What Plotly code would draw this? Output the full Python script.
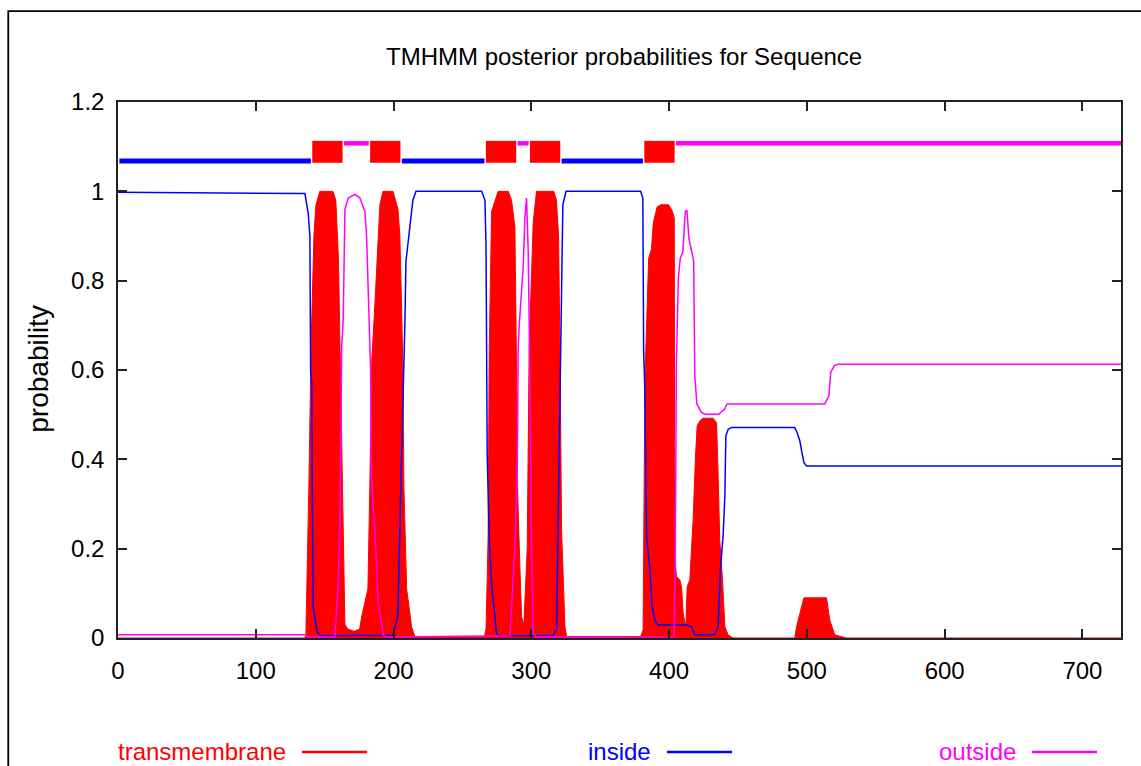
import plotly.graph_objects as go

TITLE = "TMHMM posterior probabilities for Sequence"
Y_LABEL = "probability"
LEGEND_NAMES = ["transmembrane", "inside", "outside"]
SEQ_LEN = 728

# posterior probability of transmembrane (red, filled impulses)
TM_X = [0, 135.7, 136.4, 137.1, 138.6, 140.1, 142.2, 143.7, 146.5, 156.0, 158.1, 160.0,
        161.4, 162.9, 164.7, 166.8, 171.4, 175.4, 177.0, 179.2, 181.4, 182.8, 184.2,
        186.5, 190.1, 192.3, 199.6, 203.2, 204.6, 205.9, 206.8, 207.5, 209.5, 213.1,
        215.5, 265.9, 267.1, 267.96, 268.66, 269.47, 271.18, 275.9, 283.25, 285.66,
        288.08, 289.29, 289.79, 291.2, 292.9, 294.6, 297.03, 298.44, 301.36, 303.77,
        316.24, 318.26, 319.77, 320.77, 321.98, 324.39, 325.6, 379.32, 381.13, 382.44,
        383.85, 385.16, 387.17, 388.58, 391.29, 394.01, 399.64, 402.46, 403.77, 404.07,
        405.38, 407.79, 409.0, 410.2, 412.12, 413.12, 415.03, 417.45, 419.16, 420.37,
        422.28, 424.69, 431.93, 434.45, 435.56, 436.76, 438.77, 440.49, 442.8, 446.42,
        491.19, 492.5, 494.91, 497.83, 514.22, 516.64, 520.26, 528.71, 728]
TM_P = [0, 0, 0.01, 0.11, 0.35, 0.65, 0.9, 0.97, 1.0, 1.0, 0.98, 0.85,
        0.6, 0.27, 0.03, 0.02, 0.015, 0.02, 0.05, 0.08, 0.11, 0.34, 0.62,
        0.75, 0.97, 1.0, 1.0, 0.96, 0.9, 0.73, 0.6, 0.34, 0.11, 0.025,
        0.003, 0.003, 0.02, 0.13, 0.23, 0.65, 0.955, 1.0, 1.0, 0.98,
        0.92, 0.6, 0.355, 0.21, 0.048, 0.03, 0.2, 0.65, 0.93, 1.0,
        1.0, 0.98, 0.9, 0.65, 0.24, 0.025, 0.003, 0.003, 0.018, 0.58,
        0.745, 0.85, 0.87, 0.93, 0.965, 0.97, 0.97, 0.955, 0.94, 0.18,
        0.138, 0.13, 0.115, 0.055, 0.025, 0.115, 0.13, 0.265, 0.407, 0.475,
        0.486, 0.492, 0.492, 0.482, 0.37, 0.22, 0.13, 0.025, 0.007, 0,
        0, 0.025, 0.055, 0.09, 0.09, 0.04, 0.007, 0, 0]

# posterior probability of inside (blue)
IN_X = [0, 135.67, 138.08, 139.29, 139.79, 140.6, 141.0, 141.7, 144.22, 146.53, 199.55,
        203.17, 204.58, 206.59, 207.5, 208.3, 209.0, 210.41, 212.63, 214.03, 216.25,
        263.93, 266.35, 267.1, 267.55, 267.96, 269.47, 271.18, 274.8, 276.0, 315.64,
        318.36, 319.46, 320.47, 321.58, 322.88, 325.2, 379.32, 380.93, 381.53, 382.44,
        382.94, 383.65, 386.06, 387.67, 389.68, 392.1, 412.62, 416.24, 418.65, 433.14,
        435.56, 437.37, 439.18, 440.49, 441.19, 442.8, 445.31, 491.19, 492.9, 494.91,
        496.12, 497.83, 499.74, 728]
IN_P = [0.998, 0.995, 0.95, 0.9, 0.6, 0.57, 0.35, 0.07, 0.018, 0.005, 0.006,
        0.05, 0.25, 0.47, 0.607, 0.715, 0.843, 0.88, 0.94, 0.98, 1.0,
        1.0, 0.98, 0.88, 0.647, 0.415, 0.22, 0.12, 0.01, 0.005, 0.005,
        0.018, 0.26, 0.5, 0.7, 0.97, 1.0, 1.0, 0.985, 0.64, 0.55,
        0.34, 0.228, 0.153, 0.07, 0.04, 0.029, 0.029, 0.025, 0.007, 0.007,
        0.025, 0.16, 0.228, 0.318, 0.452, 0.467, 0.471, 0.471, 0.46, 0.441,
        0.42, 0.393, 0.385, 0.385]

# posterior probability of outside (magenta)
OUT_X = [0, 136.37, 137.68, 157.4, 159.81, 161.12, 162.33, 163.43, 164.74, 167.15, 171.98,
         175.61, 179.23, 180.43, 181.64, 183.35, 184.06, 186.47, 188.88, 192.51, 194.52,
         284.45, 288.08, 289.79, 290.49, 291.2, 294.11, 295.32, 296.53, 297.73, 298.94,
         299.75, 300.15, 301.36, 303.17, 403.67, 404.47, 405.28, 406.69, 408.09, 410.0,
         411.72, 412.92, 414.43, 416.54, 417.85, 418.65, 420.17, 423.39, 426.2, 435.96,
         440.18, 442.09, 513.0, 516.0, 517.3, 520.0, 522.5, 728]
OUT_P = [0.007, 0.007, 0.002, 0.002, 0.12, 0.26, 0.65, 0.71, 0.96, 0.985, 0.993,
         0.985, 0.955, 0.9, 0.775, 0.6, 0.35, 0.24, 0.08, 0.007, 0.002,
         0.005, 0.2, 0.38, 0.65, 0.7, 0.83, 0.94, 0.985, 0.865, 0.6,
         0.27, 0.2, 0.01, 0.002, 0.003, 0.18, 0.61, 0.805, 0.85, 0.865,
         0.955, 0.958, 0.894, 0.865, 0.843, 0.587, 0.524, 0.505, 0.501, 0.501,
         0.512, 0.524, 0.524, 0.542, 0.595, 0.61, 0.613, 0.613]

# predicted topology (residue ranges)
TM_START = [141, 183, 267, 299, 382]
TM_END = [163, 205, 289, 321, 404]
IN_START = [1, 206, 322]
IN_END = [140, 266, 381]
OUT_START = [164, 290, 405]
OUT_END = [182, 298, 728]

X_TICKS = [0, 100, 200, 300, 400, 500, 600, 700]
Y_TICKS = [0, 0.2, 0.4, 0.6, 0.8, 1.0, 1.2]
Y_TICK_TEXT = ["0", "0.2", "0.4", "0.6", "0.8", "1", "1.2"]

RED = "#ff0000"
BLUE = "#0000ff"
MAGENTA = "#ff00ff"
FONT = "Liberation Sans, Arial, Helvetica, sans-serif"
AX = "#222222"
FS = 24


def segs(starts, ends, level):
    xs, ys = [], []
    for s, e in zip(starts, ends):
        xs += [s, e, None]
        ys += [level, level, None]
    return xs, ys


fig = go.Figure()
fig.add_trace(go.Scatter(x=TM_X, y=TM_P, mode="lines", fill="tozeroy",
                         fillcolor=RED, line=dict(color=RED, width=1)))
fig.add_trace(go.Scatter(x=IN_X, y=IN_P, mode="lines", line=dict(color=BLUE, width=1.5)))
fig.add_trace(go.Scatter(x=OUT_X, y=OUT_P, mode="lines", line=dict(color=MAGENTA, width=1.5)))

# topology track
ix, iy = segs(IN_START, IN_END, 1.068)
fig.add_trace(go.Scatter(x=ix, y=iy, mode="lines", line=dict(color=BLUE, width=5)))
ox, oy = segs(OUT_START, OUT_END, 1.1075)
fig.add_trace(go.Scatter(x=ox, y=oy, mode="lines", line=dict(color=MAGENTA, width=4.5)))
fig.add_trace(go.Bar(x=[(s + e) / 2 for s, e in zip(TM_START, TM_END)],
                     width=[e - s for s, e in zip(TM_START, TM_END)],
                     y=[0.049] * len(TM_START), base=[1.064] * len(TM_START),
                     marker=dict(color=RED, line=dict(width=0))))

fig.update_layout(
    template="none", width=1141, height=766,
    margin=dict(l=118, r=20, t=102, b=128, autoexpand=False),
    plot_bgcolor="white", paper_bgcolor="white", showlegend=False,
    font=dict(family=FONT, size=FS, color="black"),
)
fig.update_xaxes(range=[0, SEQ_LEN], tickvals=X_TICKS, ticks="inside", ticklen=9,
                 tickwidth=1.5, tickcolor=AX, showline=True, linecolor=AX, linewidth=1.5,
                 mirror="allticks", showgrid=False, zeroline=False, automargin=False,
                 tickfont=dict(family=FONT, size=FS, color="black"), ticklabelstandoff=10)
fig.update_yaxes(range=[0, 1.2], tickvals=Y_TICKS, ticktext=Y_TICK_TEXT, ticks="inside",
                 ticklen=9, tickwidth=1.5, tickcolor=AX, showline=True, linecolor=AX,
                 linewidth=1.5, mirror="allticks", showgrid=False, zeroline=False,
                 automargin=False, tickfont=dict(family=FONT, size=FS, color="black"),
                 ticklabelstandoff=7)

ann = [
    dict(text=TITLE, x=0.5045, y=1.0857, xref="paper", yref="paper", showarrow=False,
         xanchor="center", yanchor="middle", font=dict(family=FONT, size=FS, color="black")),
    dict(text=Y_LABEL, x=-0.0788, y=0.5023, xref="paper", yref="paper", showarrow=False,
         textangle=-90, xanchor="center", yanchor="middle",
         font=dict(family=FONT, size=28, color="black")),
]
leg_colors = [RED, BLUE, MAGENTA]
leg_text_right = [0.1695, 0.5334, 0.8973]
leg_line = [(0.1834, 0.2483), (0.5474, 0.6122), (0.9113, 0.9761)]
shapes = [dict(type="rect", xref="paper", yref="paper", x0=-0.1094, x1=1.3, y0=-0.6, y1=1.1696,
               line=dict(color="black", width=1.8), fillcolor="rgba(0,0,0,0)", layer="below")]
for name, c, xr, (l0, l1) in zip(LEGEND_NAMES, leg_colors, leg_text_right, leg_line):
    ann.append(dict(text=name, x=xr, y=-0.2125, xref="paper", yref="paper", showarrow=False,
                    xanchor="right", yanchor="middle", font=dict(family=FONT, size=FS, color=c)))
    shapes.append(dict(type="line", xref="paper", yref="paper", x0=l0, x1=l1, y0=-0.2125,
                       y1=-0.2125, line=dict(color=c, width=2.5)))
fig.update_layout(annotations=ann, shapes=shapes)

fig.write_html("out.html", config={"displayModeBar": False},
               post_script="document.body.style.margin='0';")
